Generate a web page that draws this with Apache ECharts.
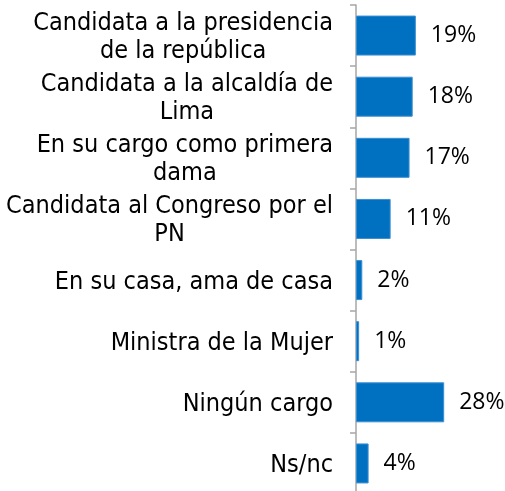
<!DOCTYPE html>
<html>
<head>
<meta charset="utf-8">
<script src="https://cdn.jsdelivr.net/npm/echarts@6/dist/echarts.min.js"></script>
<style>
  html, body { margin: 0; padding: 0; background: #fff; }
  #chart { width: 505px; height: 491px; }
</style>
</head>
<body>
<div id="chart"></div>
<script>
// categorias (top to bottom) y porcentajes
var categories = [
    'Candidata a la presidencia\nde la república',
    'Candidata a la alcaldía de\nLima',
    'En su cargo como primera\ndama',
    'Candidata al Congreso por el\nPN',
    'En su casa, ama de casa',
    'Ministra de la Mujer',
    'Ningún cargo',
    'Ns/nc'
];
var values = [19, 18, 17, 11, 2, 1, 28, 4];

var chart = echarts.init(document.getElementById('chart'));

var option = {
    animation: false,
    grid: {
        left: 356,
        top: 5,
        width: 126,
        height: 489,
        outerBoundsMode: 'none'
    },
    xAxis: {
        type: 'value',
        min: 0,
        max: 40,
        show: false
    },
    yAxis: {
        type: 'category',
        inverse: true,
        data: categories,
        axisLine: { show: true, lineStyle: { color: '#a6a6a6', width: 1.5 } },
        axisTick: { show: true, length: 6, lineStyle: { color: '#a6a6a6', width: 1.5 } },
        axisLabel: {
            margin: 23,
            align: 'right',
            padding: [4, 0, 0, 0],
            formatter: function (v) {
                // each line centred inside the right-aligned block
                return v.split('\n').map(function (l) { return '{c|' + l + '}'; }).join('\n');
            },
            rich: {
                c: {
                    align: 'center',
                    fontFamily: '"DejaVu Sans Condensed", "DejaVu Sans"',
                    fontSize: 25,
                    lineHeight: 28,
                    color: '#000'
                }
            }
        }
    },
    series: [{
        type: 'bar',
        data: values,
        barWidth: 40,
        itemStyle: {
            color: '#0070c0',
            borderColor: '#3d8fd1',
            borderWidth: 1
        },
        label: {
            show: true,
            position: 'right',
            distance: 15,
            formatter: '{c}%',
            fontFamily: '"Open Sans"',
            fontSize: 23,
            color: '#000'
        }
    }]
};

chart.setOption(option);
</script>
</body>
</html>
